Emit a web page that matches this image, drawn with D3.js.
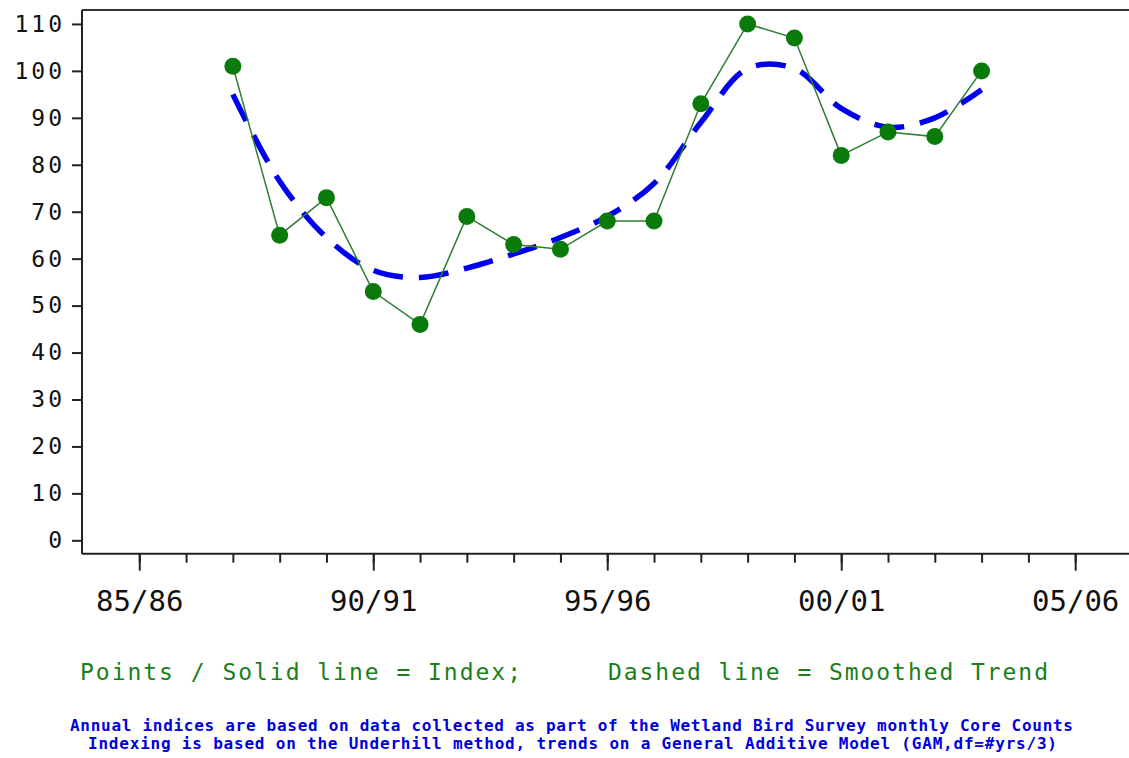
<!DOCTYPE html>
<html>
<head>
<meta charset="utf-8">
<script src="https://cdn.jsdelivr.net/npm/d3@7"></script>
<style>
 body{margin:0;background:#fff;}
 svg{display:block;}
</style>
</head>
<body>
<svg id="chart" width="1129" height="758"></svg>
<script>
// index chart - points + smoothed trend

var years = [1987,1988,1989,1990,1991,1992,1993,1994,1995,1996,1997,1998,1999,2000,2001,2002,2003];
var indexVals = [101,65,73,53,46,69,63,62,68,68,93,110,107,82,87,86,100];
var trendVals = [95,76.5,64.5,57.5,56,58,61,64.5,69,76,89,100.5,100.5,92,88,90,96];
var majorYears = [1985,1990,1995,2000,2005];
var seasonLabels = ["85/86","90/91","95/96","00/01","05/06"];
var yTicks = [0,10,20,30,40,50,60,70,80,90,100,110];

var legendLeft = "Points / Solid line = Index;";
var legendRight = "Dashed line = Smoothed Trend";
var note1 = "Annual indices are based on data collected as part of the Wetland Bird Survey monthly Core Counts";
var note2 = "Indexing is based on the Underhill method, trends on a General Additive Model (GAM,df=#yrs/3)";

var svg = d3.select("#chart");
var plotL = 82, plotR = 1129, plotT = 10, plotB = 553.7;
var mono = "'DejaVu Sans Mono', 'Liberation Mono', monospace";

var x = d3.scaleLinear().domain([1983.776, 2006.15]).range([plotL, plotR]);
var y = d3.scaleLinear().domain([-2.85, 112.97]).range([plotB, plotT]);

// top frame line
svg.append("line")
	.attr("x1",plotL).attr("x2",plotR)
	.attr("y1",plotT).attr("y2",plotT)
	.attr("stroke","#333").attr("stroke-width",2);

// y axis
var yAxis = svg.append("g")
	.attr("transform","translate("+plotL+",0)")
	.call(d3.axisLeft(y).tickValues(yTicks).tickSize(10).tickSizeOuter(0).tickPadding(7));
yAxis.select(".domain").attr("stroke","#222").attr("stroke-width",2)
	.attr("d","M0,"+plotT+"V"+plotB);
yAxis.selectAll(".tick line").attr("stroke","#222").attr("stroke-width",2);
yAxis.selectAll(".tick text")
	.attr("font-family",mono).attr("font-size",23)
	.attr("letter-spacing",3).attr("fill","#111");

// x axis minor ticks
var xMinor = svg.append("g")
	.attr("transform","translate(0,"+plotB+")")
	.call(d3.axisBottom(x).tickValues(d3.range(1985,2006)).tickSize(9).tickSizeOuter(0).tickFormat(""));
xMinor.select(".domain").attr("stroke","#222").attr("stroke-width",2)
	.attr("d","M"+plotL+",0H"+plotR);
xMinor.selectAll(".tick line").attr("stroke","#222").attr("stroke-width",2);

// x axis major ticks + labels
var xMajor = svg.append("g")
	.attr("transform","translate(0,"+plotB+")")
	.call(d3.axisBottom(x).tickValues(majorYears).tickSize(17).tickSizeOuter(0)
		.tickPadding(20).tickFormat(function(d,i){ return seasonLabels[i]; }));
xMajor.select(".domain").remove();
xMajor.selectAll(".tick line").attr("stroke","#222").attr("stroke-width",2);
xMajor.selectAll(".tick text")
	.attr("font-family",mono).attr("font-size",29).attr("fill","#111");

// smoothed trend (dashed)
var trendLine = d3.line()
	.x(function(d,i){ return x(years[i]); })
	.y(function(d){ return y(d); })
	.curve(d3.curveCatmullRom.alpha(0.5));
svg.append("path")
	.datum(trendVals)
	.attr("d",trendLine)
	.attr("fill","none")
	.attr("stroke","#0000ee")
	.attr("stroke-width",5.5)
	.attr("stroke-dasharray","30,16");

// index line
var idxLine = d3.line()
	.x(function(d,i){ return x(years[i]); })
	.y(function(d){ return y(d); });
svg.append("path")
	.datum(indexVals)
	.attr("d",idxLine)
	.attr("fill","none")
	.attr("stroke","#2e7d32")
	.attr("stroke-width",1.5);

svg.selectAll("circle.pt")
	.data(indexVals)
	.enter().append("circle")
	.attr("class","pt")
	.attr("cx",function(d,i){ return x(years[i]); })
	.attr("cy",function(d){ return y(d); })
	.attr("r",8.5)
	.attr("fill","#0a7a0a");

// legend
svg.append("text")
	.attr("x",80).attr("y",680)
	.attr("font-family",mono).attr("font-size",23)
	.attr("fill","#1a7f1a")
	.attr("textLength",441).attr("lengthAdjust","spacing")
	.text(legendLeft);
svg.append("text")
	.attr("x",608).attr("y",680)
	.attr("font-family",mono).attr("font-size",23)
	.attr("fill","#1a7f1a")
	.attr("textLength",440).attr("lengthAdjust","spacing")
	.text(legendRight);

// footnotes
svg.append("text")
	.attr("x",70).attr("y",731)
	.attr("font-family",mono).attr("font-size",16).attr("font-weight","bold")
	.attr("fill","#0000dd")
	.attr("textLength",1003).attr("lengthAdjust","spacing")
	.text(note1);
svg.append("text")
	.attr("x",88).attr("y",749)
	.attr("font-family",mono).attr("font-size",16).attr("font-weight","bold")
	.attr("fill","#0000dd")
	.attr("textLength",969).attr("lengthAdjust","spacing")
	.text(note2);
</script>
</body>
</html>
